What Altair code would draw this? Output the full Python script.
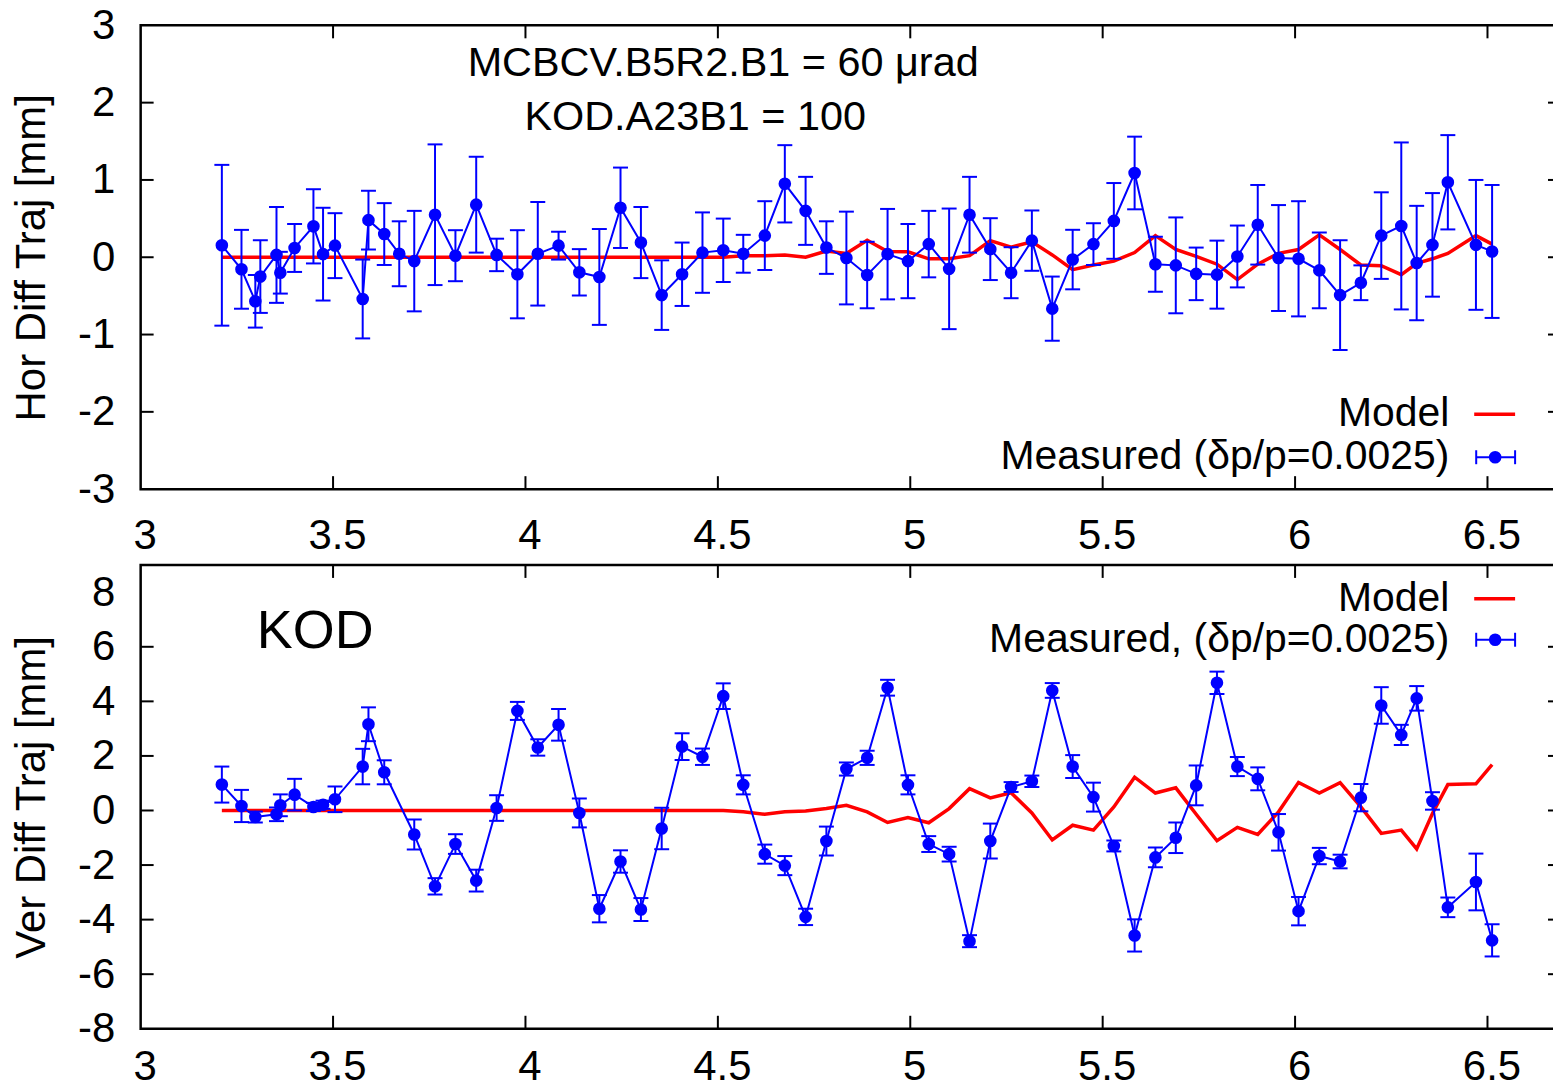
import altair as alt
import pandas as pd

# ---------------- data ----------------
bpm_s = [3.211, 3.262, 3.298, 3.311, 3.353, 3.363, 3.400, 3.449, 3.474, 3.505,
         3.577, 3.592, 3.633, 3.672, 3.711, 3.765, 3.818, 3.872, 3.925, 3.979,
         4.032, 4.086, 4.140, 4.192, 4.247, 4.300, 4.354, 4.407, 4.460, 4.514,
         4.566, 4.622, 4.674, 4.728, 4.782, 4.834, 4.888, 4.941, 4.994, 5.048,
         5.101, 5.154, 5.208, 5.262, 5.316, 5.369, 5.422, 5.476, 5.529, 5.583,
         5.637, 5.690, 5.743, 5.797, 5.850, 5.903, 5.957, 6.009, 6.063, 6.117,
         6.171, 6.224, 6.276, 6.316, 6.357, 6.397, 6.470, 6.512]

hor_meas = [0.155, -0.156, -0.57, -0.25, 0.03, -0.20, 0.12, 0.40, 0.04, 0.15,
            -0.54, 0.48, 0.30, 0.045, -0.05, 0.55, 0.02, 0.68, 0.03, -0.22,
            0.045, 0.15, -0.195, -0.255, 0.64, 0.19, -0.49, -0.22, 0.06, 0.09,
            0.045, 0.28, 0.95, 0.60, 0.125, -0.01, -0.23, 0.04, -0.05, 0.17,
            -0.15, 0.55, 0.105, -0.20, 0.215, -0.665, -0.03, 0.17, 0.47, 1.09,
            -0.09, -0.105, -0.215, -0.225, 0.01, 0.42, -0.01, -0.02, -0.17, -0.49,
            -0.33, 0.28, 0.405, -0.075, 0.16, 0.97, 0.16, 0.075]

hor_err = [1.04, 0.51, 0.34, 0.47, 0.62, 0.27, 0.31, 0.48, 0.60, 0.42,
           0.51, 0.38, 0.40, 0.42, 0.65, 0.91, 0.33, 0.62, 0.21, 0.57,
           0.67, 0.18, 0.30, 0.62, 0.52, 0.46, 0.45, 0.41, 0.52, 0.41,
           0.245, 0.445, 0.50, 0.44, 0.34, 0.60, 0.43, 0.585, 0.48, 0.43,
           0.78, 0.49, 0.40, 0.33, 0.39, 0.415, 0.385, 0.27, 0.49, 0.47,
           0.355, 0.62, 0.34, 0.44, 0.40, 0.515, 0.685, 0.745, 0.49, 0.71,
           0.225, 0.56, 1.08, 0.74, 0.67, 0.61, 0.84, 0.86]

hor_model = [0, 0, 0, 0, 0, 0, 0, 0, 0, 0,
             0, 0, 0, 0, 0, 0, 0, 0, 0, 0,
             0, 0, 0, 0, 0, 0, 0, 0, 0, 0,
             0.02, 0.02, 0.03, 0.0, 0.08, 0.05, 0.22, 0.075, 0.07, -0.02,
             -0.02, 0.02, 0.215, 0.13, 0.20, 0.03, -0.16, -0.10, -0.05, 0.06,
             0.28, 0.10, 0.01, -0.09, -0.29, -0.09, 0.05, 0.10, 0.29, 0.10,
             -0.10, -0.11, -0.225, -0.08, -0.02, 0.05, 0.28, 0.17]

ver_s = [3.211, 3.262, 3.298, 3.353, 3.363, 3.400, 3.449, 3.474, 3.505,
         3.577, 3.592, 3.633, 3.711, 3.765, 3.818, 3.872, 3.925, 3.979,
         4.032, 4.086, 4.140, 4.192, 4.247, 4.300, 4.354, 4.407, 4.460, 4.514,
         4.566, 4.622, 4.674, 4.728, 4.782, 4.834, 4.888, 4.941, 4.994, 5.048,
         5.101, 5.154, 5.208, 5.262, 5.316, 5.369, 5.422, 5.476, 5.529, 5.583,
         5.637, 5.690, 5.743, 5.797, 5.850, 5.903, 5.957, 6.009, 6.063, 6.117,
         6.171, 6.224, 6.276, 6.316, 6.357, 6.397, 6.470, 6.512]

ver_meas = [0.95, 0.165, -0.24, -0.14, 0.19, 0.58, 0.13, 0.21, 0.41,
            1.61, 3.16, 1.40, -0.88, -2.78, -1.23, -2.57, 0.09, 3.65,
            2.31, 3.14, -0.09, -3.60, -1.87, -3.63, -0.66, 2.34, 1.97, 4.19,
            0.94, -1.60, -2.02, -3.90, -1.12, 1.52, 1.93, 4.50, 0.94, -1.23,
            -1.60, -4.79, -1.12, 0.86, 1.07, 4.40, 1.61, 0.49, -1.30, -4.58,
            -1.72, -1.00, 0.92, 4.68, 1.61, 1.16, -0.80, -3.69, -1.67, -1.87,
            0.47, 3.85, 2.77, 4.11, 0.35, -3.55, -2.62, -4.76]

ver_err = [0.66, 0.59, 0.20, 0.25, 0.40, 0.58, 0.15, 0.15, 0.47,
           0.65, 0.62, 0.44, 0.55, 0.30, 0.36, 0.40, 0.47, 0.33,
           0.30, 0.58, 0.53, 0.50, 0.41, 0.42, 0.76, 0.49, 0.30, 0.47,
           0.35, 0.35, 0.35, 0.30, 0.53, 0.24, 0.26, 0.29, 0.35, 0.29,
           0.27, 0.22, 0.64, 0.18, 0.21, 0.27, 0.42, 0.53, 0.20, 0.59,
           0.36, 0.56, 0.73, 0.41, 0.35, 0.42, 0.67, 0.52, 0.30, 0.25,
           0.50, 0.67, 0.37, 0.45, 0.32, 0.36, 1.04, 0.59]

ver_model = [0, 0, 0, 0, 0, 0, 0, 0, 0, 0,
             0, 0, 0, 0, 0, 0, 0, 0, 0, 0,
             0, 0, 0, 0, 0, 0, 0, 0, 0, 0,
             -0.05, -0.14, -0.05, -0.02, 0.07, 0.19, -0.05, -0.44, -0.26, -0.45,
             0.07, 0.80, 0.46, 0.65, -0.09, -1.08, -0.54, -0.72, 0.13, 1.22,
             0.64, 0.83, -0.14, -1.11, -0.62, -0.88, -0.05, 1.03, 0.64, 1.02,
             0.13, -0.84, -0.72, -1.41, -0.11, 0.95, 0.98, 1.68]

x_label_values = [3.0, 3.5, 4.0, 4.5, 5.0, 5.5, 6.0, 6.5]
x_tick_values = [3.5, 4.0, 4.5, 5.0, 5.5, 6.0, 6.5]
hor_y_values = [-3, -2, -1, 0, 1, 2, 3]
ver_y_values = [-8, -6, -4, -2, 0, 2, 4, 6, 8]

# ---------------- styling ----------------
W, H = 1424, 465
X_DOMAIN = [3.0, 6.691]
FONT = "Liberation Sans"
FS = 42
BLUE = "#0000ff"
RED = "#ff0000"
TICK = 13


def build(s, meas, err, model, ydom, yvals, ytitle, meas_label, notes, leg_y,
          x_pad):
    xs = alt.Scale(domain=X_DOMAIN, nice=False, zero=False)
    ys = alt.Scale(domain=ydom, nice=False, zero=False)
    xaxis = alt.Axis(values=x_label_values, labelExpr="format(datum.value, '~g')",
                     ticks=False, domain=False, grid=False, labelFont=FONT,
                     labelFontSize=FS, labelColor="black", labelPadding=x_pad,
                     labelOffset=4, labelFlush=False, title=None)
    yaxis = alt.Axis(values=yvals,
                     labelExpr="datum.value < 0 ? '-' + format(-datum.value, '~g') : format(datum.value, '~g')",
                     ticks=False, domain=False, grid=False, labelFont=FONT,
                     labelFontSize=FS, labelColor="black", labelPadding=26,
                     labelFlush=False,
                     title=ytitle, titleFont=FONT, titleFontSize=FS,
                     titleFontWeight="normal", titleColor="black", titlePadding=24)

    df = pd.DataFrame({"s": s, "v": meas,
                       "lo": [m - e for m, e in zip(meas, err)],
                       "hi": [m + e for m, e in zip(meas, err)]})
    X = alt.X("s:Q", scale=xs, axis=xaxis)
    base = alt.Chart(df)

    mdf = pd.DataFrame({"s": bpm_s, "v": model})
    model_line = alt.Chart(mdf).mark_line(color=RED, strokeWidth=3.5).encode(
        x=X, y=alt.Y("v:Q", scale=ys, axis=yaxis))
    meas_line = base.mark_line(color=BLUE, strokeWidth=2).encode(
        x=X, y=alt.Y("v:Q", scale=ys, axis=yaxis))
    bars = base.mark_rule(color=BLUE, strokeWidth=2).encode(
        x=X, y=alt.Y("lo:Q", scale=ys, axis=yaxis), y2="hi:Q")
    cap_hi = base.mark_tick(orient="horizontal", color=BLUE, size=15,
                            thickness=2, opacity=1).encode(
        x=X, y=alt.Y("hi:Q", scale=ys, axis=yaxis))
    cap_lo = base.mark_tick(orient="horizontal", color=BLUE, size=15,
                            thickness=2, opacity=1).encode(
        x=X, y=alt.Y("lo:Q", scale=ys, axis=yaxis))
    pts = base.mark_circle(color=BLUE, size=160, opacity=1).encode(
        x=X, y=alt.Y("v:Q", scale=ys, axis=yaxis))

    # inward ticks on all four sides (mirrored, as in the reference)
    xt = alt.Chart(pd.DataFrame({"t": x_tick_values}))
    bot_t = xt.mark_rule(color="black", strokeWidth=2).encode(
        x=alt.X("t:Q", scale=xs, axis=xaxis), y=alt.value(H), y2=alt.value(H - TICK))
    top_t = xt.mark_rule(color="black", strokeWidth=2).encode(
        x=alt.X("t:Q", scale=xs, axis=xaxis), y=alt.value(0), y2=alt.value(TICK))
    yt = alt.Chart(pd.DataFrame({"t": yvals[1:-1]}))
    left_t = yt.mark_rule(color="black", strokeWidth=2).encode(
        y=alt.Y("t:Q", scale=ys, axis=yaxis), x=alt.value(0), x2=alt.value(TICK))
    right_t = yt.mark_rule(color="black", strokeWidth=2).encode(
        y=alt.Y("t:Q", scale=ys, axis=yaxis), x=alt.value(W), x2=alt.value(W - TICK))

    one = alt.Chart(pd.DataFrame({"a": [0]}))
    leg = [
        one.mark_text(align="right", baseline="middle", font=FONT, fontSize=41,
                      color="black").encode(
            x=alt.value(1312), y=alt.value(leg_y[0]), text=alt.value("Model")),
        one.mark_text(align="right", baseline="middle", font=FONT, fontSize=41,
                      color="black").encode(
            x=alt.value(1312), y=alt.value(leg_y[1]), text=alt.value(meas_label)),
        one.mark_rule(color=RED, strokeWidth=3.5).encode(
            x=alt.value(1337), x2=alt.value(1378), y=alt.value(leg_y[0])),
        one.mark_rule(color=BLUE, strokeWidth=2).encode(
            x=alt.value(1339), x2=alt.value(1378), y=alt.value(leg_y[1])),
        one.mark_rule(color=BLUE, strokeWidth=2).encode(
            x=alt.value(1339), y=alt.value(leg_y[1] - 7), y2=alt.value(leg_y[1] + 7)),
        one.mark_rule(color=BLUE, strokeWidth=2).encode(
            x=alt.value(1378), y=alt.value(leg_y[1] - 7), y2=alt.value(leg_y[1] + 7)),
        one.mark_circle(color=BLUE, size=160, opacity=1).encode(
            x=alt.value(1358), y=alt.value(leg_y[1])),
    ]
    note_layers = [
        one.mark_text(align="center", baseline="middle", font=FONT, fontSize=fs,
                      color="black").encode(
            x=alt.value(nx), y=alt.value(ny), text=alt.value(txt))
        for (txt, nx, ny, fs) in notes
    ]
    return alt.layer(model_line, meas_line, bars, cap_hi, cap_lo, pts,
                     bot_t, top_t, left_t, right_t, *leg, *note_layers).properties(
        width=W, height=H)


top = build(bpm_s, hor_meas, hor_err, hor_model, [-3, 3], hor_y_values,
            "Hor Diff Traj [mm]", "Measured (\u03b4p/p=0.0025)",
            [("MCBCV.B5R2.B1 = 60 \u03bcrad", 584, 39, 41.5),
             ("KOD.A23B1 = 100", 556, 93, 41.5)],
            (390, 433), 27)
bottom = build(ver_s, ver_meas, ver_err, ver_model, [-8, 9], ver_y_values,
               "Ver Diff Traj [mm]", "Measured, (\u03b4p/p=0.0025)",
               [("KOD", 175, 67, 54)],
               (34, 75), 18)

chart = alt.vconcat(top, bottom, spacing=3).properties(
    padding={"left": 1, "top": -7, "right": -11, "bottom": -9}
).configure_view(stroke="black", strokeWidth=2.5)

chart.save("out.html", embed_options={"renderer": "svg", "actions": False})
